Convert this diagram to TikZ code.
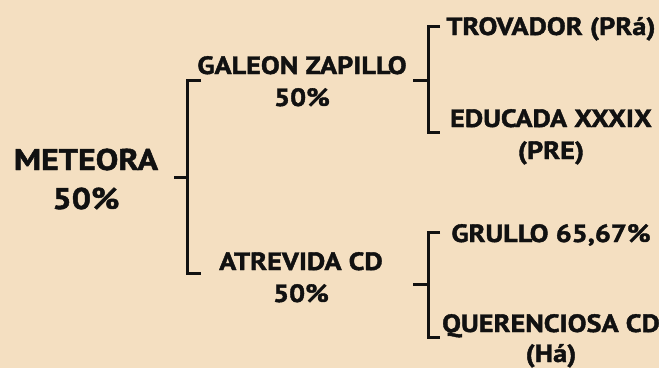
\documentclass[tikz,border=0pt]{standalone}
\usepackage{fontspec}
\setmainfont{PT Sans}[BoldFeatures={FakeStretch=1.13,FakeBold=1.6}]
\definecolor{bg}{HTML}{F4DFC1}
\definecolor{ink}{HTML}{111111}
\begin{document}
\begin{tikzpicture}[x=1pt,y=-1pt,
  lbl/.style={inner sep=0pt,align=center,text=ink,font=\bfseries\fontsize{25}{32}\selectfont,anchor=base},
  big/.style={lbl,font=\bfseries\fontsize{30}{39}\selectfont},
  brk/.style={draw=ink,line width=3pt,line cap=butt,line join=miter}]
\fill[bg] (0,0) rectangle (659,368);
\useasboundingbox (0,0) rectangle (659,368);
% text nodes (base = baseline of last line)
\node[big] (met) at (86,209) {METEORA\\50\%};
\node[lbl] (gal) at (302,106) {GALEON ZAPILLO\\50\%};
\node[lbl] (atr) at (301,302) {ATREVIDA CD\\50\%};
\node[lbl] (tro) at (551,35) {TROVADOR (PRá)};
\node[lbl] (edu) at (551,159) {EDUCADA XXXIX\\(PRE)};
\node[lbl] (gru) at (551,242) {GRULLO 65,67\%};
\node[lbl,font=\bfseries\fontsize{25}{30}\selectfont] (que) at (551,362) {QUERENCIOSA CD\\(Há)};
% bracket coordinates
\coordinate (m0) at (174,177);
\coordinate (m1) at (187,177);
\coordinate (t1) at (201,80);
\coordinate (b1) at (201,273);
\coordinate (g0) at (413,80);
\coordinate (g1) at (428,80);
\coordinate (t2) at (440,26);
\coordinate (b2) at (440,132);
\coordinate (a0) at (413,284);
\coordinate (a1) at (428,284);
\coordinate (t3) at (440,232);
\coordinate (b3) at (440,337);
% brackets
\draw[brk] (m0) -- (m1);
\draw[brk] (t1) -- (t1 -| m1) -- (b1 -| m1) -- (b1);
\draw[brk] (g0) -- (g1);
\draw[brk] (t2) -- (t2 -| g1) -- (b2 -| g1) -- (b2);
\draw[brk] (a0) -- (a1);
\draw[brk] (t3) -- (t3 -| a1) -- (b3 -| a1) -- (b3);
\end{tikzpicture}
\end{document}
